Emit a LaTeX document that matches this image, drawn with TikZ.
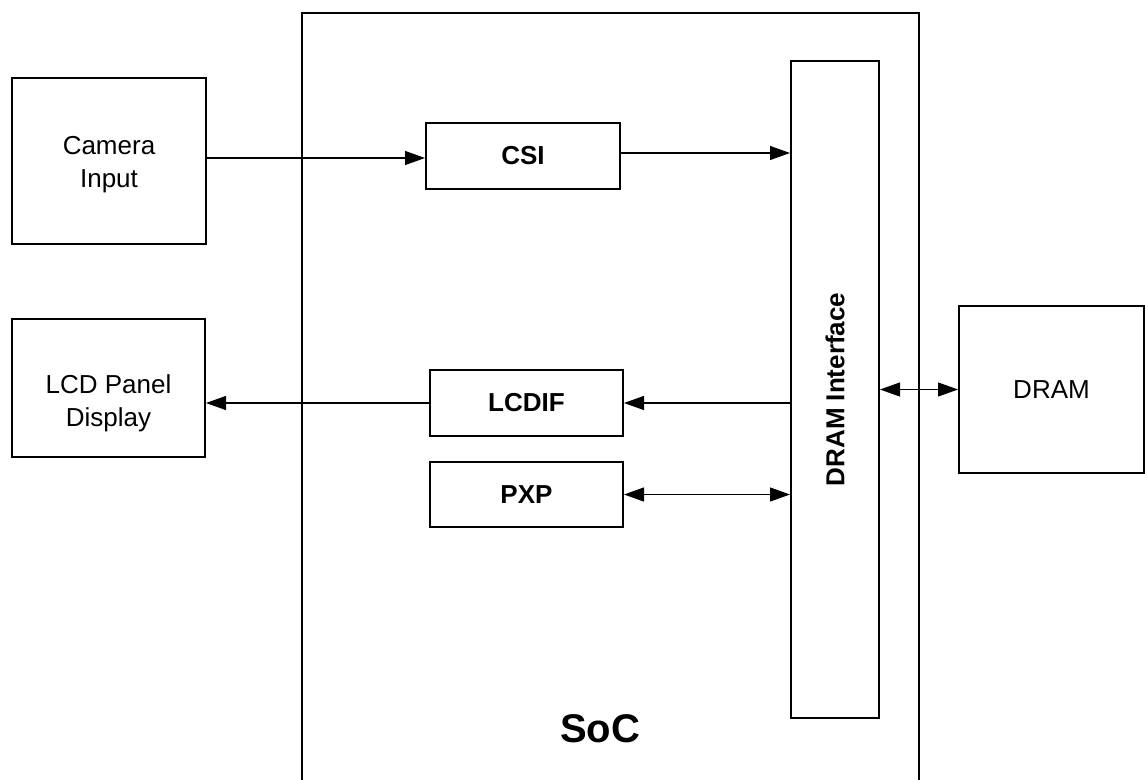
\documentclass[tikz,border=0pt]{standalone}
\usepackage{fontspec}
\setmainfont{Liberation Sans}
\usetikzlibrary{arrows.meta}
\begin{document}
\begin{tikzpicture}[x=1pt,y=-1pt,
  blk/.style={draw, line width=2pt, rectangle, inner sep=0pt, align=center,
    font=\fontsize{26}{33}\selectfont},
  bblk/.style={blk, font=\fontsize{26}{33}\selectfont\bfseries},
  txt/.style={inner sep=0pt, align=center, font=\fontsize{26}{33}\selectfont},
  arr/.style={line width=1.2pt, -{Triangle[length=20pt,width=14pt]}},
  darr/.style={line width=1.2pt, {Triangle[length=20pt,width=14pt]}-{Triangle[length=20pt,width=14pt]}}]
\useasboundingbox (0,0) rectangle (1145,779);
% SoC container (bottom open at page edge)
\draw[line width=2pt] (302,781) -- (302,13) -- (919,13) -- (919,781);
\node[font=\fontsize{40}{48}\selectfont\bfseries] (soclbl) at (600,729) {SoC};
% blocks
\node[blk, minimum width=194pt, minimum height=166pt] (cam) at (109,161) {};
\node[txt] (camlbl) at (109,165) {Camera\\Input};
\node[blk, minimum width=193pt, minimum height=138pt] (lcd) at (108.5,388) {};
\node[txt] (lcdlbl) at (108.5,403) {LCD Panel\\Display};
\node[bblk, minimum width=194pt, minimum height=66pt] (csi) at (523,156) {CSI};
\node[bblk, minimum width=193pt, minimum height=66pt] (lcdif) at (526.5,403) {LCDIF};
\node[bblk, minimum width=193pt, minimum height=65pt] (pxp) at (526.5,494.5) {PXP};
\node[blk, minimum width=88pt, minimum height=657pt] (dif) at (835,389.5) {};
\node[font=\fontsize{26}{33}\selectfont\bfseries, rotate=90] (diflbl) at (dif.center) {DRAM Interface};
\node[blk, minimum width=185pt, minimum height=167pt] (dram) at (1051.5,389.5) {DRAM};
% connectors
\coordinate (camout) at (cam.east |- 0,158);
\draw[arr] (camout) -- (camout -| csi.west);
\coordinate (csiout) at (csi.east |- 0,153);
\draw[arr] (csiout) -- (csiout -| dif.west);
\draw[arr] (lcdif.east -| dif.west) -- (lcdif.east);
\draw[arr] (lcdif.west) -- (lcdif.west -| lcd.east);
\draw[darr] (pxp.east) -- (pxp.east -| dif.west);
\draw[darr] (dif.east |- dram.west) -- (dram.west);
\end{tikzpicture}
\end{document}
